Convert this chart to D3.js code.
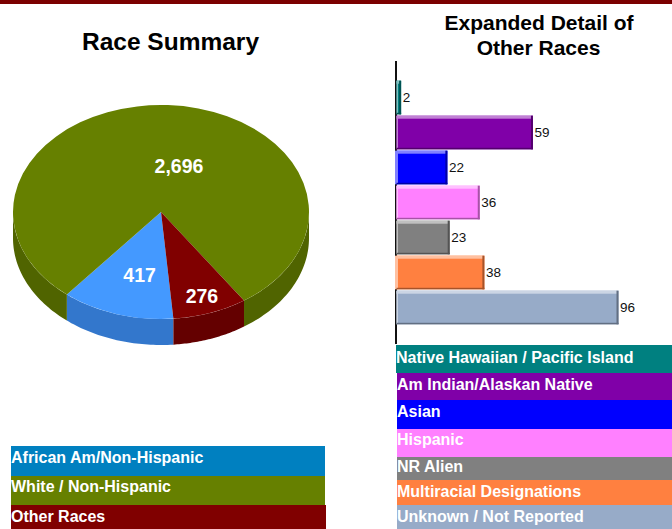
<!DOCTYPE html>
<html>
<head>
<meta charset="utf-8">
<script src="https://cdnjs.cloudflare.com/ajax/libs/d3/7.8.5/d3.min.js"></script>
<style>
  html, body { margin: 0; padding: 0; background: #fff; overflow: hidden; }
  text { font-family: "Liberation Sans", Arial, sans-serif; }
</style>
</head>
<body>
<svg id="chart" width="672" height="529" style="display: block;"></svg>
<script>
const raceNames = ["African Am/Non-Hispanic", "White / Non-Hispanic", "Other Races"];
const raceValues = [417, 2696, 276];
const raceColors = ["#4499ff", "#668000", "#800000"];
const raceWalls = ["#3377cc", "#506400", "#640000"];
const raceLegendColors = ["#0080c0", "#668000", "#800000"];

const otherNames = ["Native Hawaiian / Pacific Island", "Am Indian/Alaskan Native", "Asian", "Hispanic",
  "NR Alien", "Multiracial Designations", "Unknown / Not Reported"];
const otherValues = [2, 59, 22, 36, 23, 38, 96];
const otherColors = ["#008080", "#8000a8", "#0000ff", "#ff80ff", "#808080", "#ff8040", "#97abc8"];

const svg = d3.select("#chart");

// top strip
svg.append("rect").attr("width", 672).attr("height", 4).attr("fill", "#7b0000");

// titles
svg.append("text").attr("x", 170.5).attr("y", 50)
  .attr("text-anchor", "middle").attr("font-size", 24.5).attr("font-weight", "bold")
  .text("Race Summary");
svg.append("text").attr("x", 539).attr("y", 30)
  .attr("text-anchor", "middle").attr("font-size", 21).attr("font-weight", "bold")
  .text("Expanded Detail of");
svg.append("text").attr("x", 538.5).attr("y", 55)
  .attr("text-anchor", "middle").attr("font-size", 21).attr("font-weight", "bold")
  .text("Other Races");

// pie
const cx = 161, cy = 212, rx = 148, ry = 107, depth = 26;
const startAngle = 175.2 * Math.PI / 180;
const pie = d3.pie().sort(null).startAngle(startAngle).endAngle(startAngle + 2 * Math.PI);
const arcData = pie(raceValues);
const pieGroup = svg.append("g");

// front wall, only the part of each slice facing the viewer
const wall = d3.area()
  .x(t => cx + rx * Math.sin(t))
  .y0(t => cy - ry * Math.cos(t))
  .y1(t => cy - ry * Math.cos(t) + depth);
const ranges = [];
arcData.forEach((d, i) => {
  [0, 2 * Math.PI].forEach(shift => {
    const a = Math.max(d.startAngle - shift, Math.PI / 2);
    const b = Math.min(d.endAngle - shift, Math.PI * 1.5);
    if (b > a) ranges.push({ a, b, i });
  });
});
pieGroup.selectAll("path.wall").data(ranges).join("path")
  .attr("class", "wall")
  .attr("fill", d => raceWalls[d.i])
  .attr("d", d => wall(d3.range(0, 41).map(k => d.a + (d.b - d.a) * k / 40)));

const arc = d3.arc().innerRadius(0).outerRadius(rx);
pieGroup.selectAll("path.top").data(arcData).join("path")
  .attr("class", "top")
  .attr("transform", `translate(${cx},${cy}) scale(1,${ry / rx})`)
  .attr("fill", (d, i) => raceColors[i])
  .attr("d", arc);

// label spots along each slice's middle, nudged sideways to sit like the original
const raceLabelRadius = [0.62, 0.43, 0.83];
const raceLabelNudge = [6, 15, 0];
pieGroup.selectAll("text").data(arcData).join("text")
  .attr("x", (d, i) => {
    const m = (d.startAngle + d.endAngle) / 2;
    return cx + rx * raceLabelRadius[i] * Math.sin(m) + raceLabelNudge[i];
  })
  .attr("y", (d, i) => {
    const m = (d.startAngle + d.endAngle) / 2;
    return cy - ry * raceLabelRadius[i] * Math.cos(m) + 7;
  })
  .attr("text-anchor", "middle")
  .attr("font-size", 19.5).attr("font-weight", "bold").attr("fill", "#fff")
  .text(d => d3.format(",")(d.value));

// axis line, the bars sit over it
svg.append("line")
  .attr("x1", 396).attr("x2", 396).attr("y1", 61).attr("y2", 344)
  .attr("stroke", "#111").attr("stroke-width", 2);

// bars
const xScale = d3.scaleLinear().domain([0, 96]).range([396.5, 618.5]);
const yScale = d3.scaleBand().domain(otherNames).range([80, 325]).paddingInner(0.04).paddingOuter(0.02);

const bars = svg.append("g").selectAll("g").data(otherValues).join("g");
const barX = xScale(0);
const barW = d => xScale(d) - barX;
const barY = (d, i) => yScale(otherNames[i]);
const bh = yScale.bandwidth();

bars.append("rect")
  .attr("x", barX).attr("y", barY)
  .attr("width", barW).attr("height", bh)
  .attr("fill", (d, i) => otherColors[i]);
// bevel: light on top and left, dark on right and bottom
bars.append("rect")
  .attr("x", barX).attr("y", barY)
  .attr("width", barW).attr("height", 3)
  .attr("fill", (d, i) => d3.interpolateRgb(otherColors[i], "#fff")(0.5));
bars.append("rect")
  .attr("x", (d, i) => i === 2 || i === 5 ? 395 : barX).attr("y", barY)
  .attr("width", (d, i) => i === 2 || i === 5 ? 3 : 1.5).attr("height", bh)
  .attr("fill", (d, i) => d3.interpolateRgb(otherColors[i], "#fff")(0.5));
bars.append("rect")
  .attr("x", barX).attr("y", (d, i) => barY(d, i) + bh - 1.5)
  .attr("width", barW).attr("height", 1.5)
  .attr("fill", (d, i) => d3.interpolateRgb(otherColors[i], "#000")(0.35));
bars.append("rect")
  .attr("x", d => xScale(d) - 2).attr("y", barY)
  .attr("width", 2).attr("height", bh)
  .attr("fill", (d, i) => d3.interpolateRgb(otherColors[i], "#000")(0.35));
bars.append("text")
  .attr("x", d => xScale(d) + 1.5)
  .attr("y", (d, i) => barY(d, i) + bh / 2 + 4.5)
  .attr("font-size", 13.5).attr("fill", "#111")
  .text(d => d);

// legends
const leftEdges = [446, 476, 505, 529];
const leftBase = [463, 492, 521.5];
const legendLeft = svg.append("g").selectAll("g").data(raceNames).join("g");
legendLeft.append("rect")
  .attr("x", 11).attr("y", (d, i) => leftEdges[i])
  .attr("width", (d, i) => i === 2 ? 315 : 314)
  .attr("height", (d, i) => leftEdges[i + 1] - leftEdges[i])
  .attr("fill", (d, i) => raceLegendColors[i]);
legendLeft.append("text")
  .attr("x", 11).attr("y", (d, i) => leftBase[i])
  .attr("font-size", 16).attr("font-weight", "bold").attr("fill", "#fff")
  .text(d => d);

const rightEdges = [345, 373, 400, 429, 457, 480, 505, 529];
const rightBase = [363, 390, 417, 445, 472, 497, 522];
const legendRight = svg.append("g").selectAll("g").data(otherNames).join("g");
legendRight.append("rect")
  .attr("x", (d, i) => i === 0 ? 396 : 397).attr("y", (d, i) => rightEdges[i])
  .attr("width", 276)
  .attr("height", (d, i) => rightEdges[i + 1] - rightEdges[i])
  .attr("fill", (d, i) => otherColors[i]);
legendRight.append("text")
  .attr("x", (d, i) => i === 0 ? 396 : 397).attr("y", (d, i) => rightBase[i])
  .attr("font-size", 16).attr("font-weight", "bold").attr("fill", "#fff")
  .text(d => d);
</script>
</body>
</html>
